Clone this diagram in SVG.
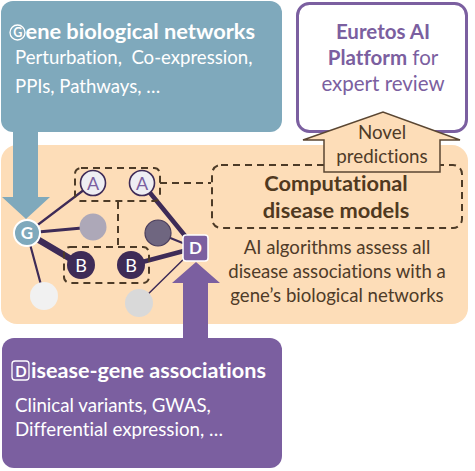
<svg xmlns="http://www.w3.org/2000/svg" width="475" height="471" viewBox="0 0 475 471">
<style>
text{font-family:Lato,"Liberation Sans",sans-serif;font-variant-ligatures:none}
.w{fill:#fff}
.tb{font-weight:bold}
.dash{fill:none;stroke:#4d3b27;stroke-width:2;stroke-dasharray:7 5}
.edge{stroke:#3e2b57;stroke-linecap:round}
.brown{fill:#50391f}
.pur{fill:#7b5fa0}
</style>
<rect x="0" y="0" width="475" height="471" fill="#fff"/>
<g id="orange-panel">
<rect x="1" y="145" width="467" height="179" rx="16" fill="#fdddb8"/>
</g>
<g id="gene-networks">
<rect x="1" y="1" width="281" height="131" rx="12" fill="#7fa9bc"/>
<circle cx="17.5" cy="32.5" r="7.5" fill="none" stroke="#fff" stroke-width="1.3"/>
<text class="w tb" font-size="21.8"><tspan x="13.3" y="37" font-size="12.5">G</tspan><tspan x="25.5" y="39">ene biological networks</tspan></text>
<text class="w" font-size="18.6"><tspan x="15" y="64">Perturbation,&#160; Co-expression,</tspan><tspan x="15" y="93">PPIs, Pathways, …</tspan></text>
</g>
<g id="disease-gene">
<rect x="2" y="338" width="280" height="130" rx="12" fill="#7b5fa0"/>
<rect x="12" y="361" width="17" height="19" rx="3" fill="none" stroke="#fff" stroke-width="1.3"/>
<text class="w tb" font-size="21.6"><tspan x="15.3" y="376.5" font-size="15">D</tspan><tspan x="31" y="378">isease-gene associations</tspan></text>
<text class="w" font-size="18.7"><tspan x="15" y="412">Clinical variants, GWAS,</tspan><tspan x="15" y="436">Differential expression, …</tspan></text>
</g>
<g id="euretos">
<rect x="297.5" y="3.5" width="169" height="128" rx="12" fill="#fff" stroke="#7b5fa0" stroke-width="3"/>
<text class="pur" font-size="20.5" text-anchor="middle"><tspan x="383" y="39" class="tb">Euretos AI</tspan><tspan x="383" y="65"><tspan class="tb">Platform</tspan> for</tspan><tspan x="383" y="91">expert review</tspan></text>
</g>
<g id="connectors">
<polygon points="13,130 38,130 38,197 50,197 26,219 2,197 13,197" fill="#7fa9bc"/>
<polygon points="183,340 208,340 208,283 220,283 196,262 172,283 183,283" fill="#7b5fa0"/>
<line class="edge" x1="27" y1="233" x2="93" y2="183" stroke-width="2.2"/>
<line class="edge" x1="27" y1="233" x2="93" y2="227" stroke-width="3.2"/>
<line class="edge" x1="27" y1="233" x2="81" y2="265" stroke-width="6.5"/>
<line class="edge" x1="27" y1="233" x2="44" y2="296" stroke-width="2.2"/>
<line class="edge" x1="142" y1="183" x2="195" y2="248" stroke-width="4.5"/>
<line class="edge" x1="158" y1="233" x2="195" y2="248" stroke-width="2"/>
<line class="edge" x1="131" y1="265" x2="195" y2="248" stroke-width="4.5"/>
<line class="edge" x1="195" y1="248" x2="139" y2="303" stroke-width="1.5"/>
<path class="dash" d="M160,183 H211 M118,202 V246"/>
</g>
<g id="computational-models">
<rect class="dash" x="212" y="165" width="250" height="63" rx="9"/>
<text class="brown tb" font-size="21.8" text-anchor="middle"><tspan x="336" y="191">Computational</tspan><tspan x="336" y="218">disease models</tspan></text>
<text fill="#4f3b28" font-size="18.6" text-anchor="middle"><tspan x="337" y="254">AI algorithms assess all</tspan><tspan x="337" y="278">disease associations with a</tspan><tspan x="337" y="302">gene’s biological networks</tspan></text>
</g>
<g id="novel-predictions">
<polygon points="324,172 324,140 303,140 383,112 460,140 440,140 440,172" fill="#fdddb8" stroke="#5a4632" stroke-width="1.5" stroke-linejoin="miter"/>
<text fill="#4f3b28" font-size="18.8" text-anchor="middle"><tspan x="382" y="139">Novel</tspan><tspan x="382" y="163">predictions</tspan></text>
</g>
<g id="group-A">
<rect class="dash" x="75" y="168" width="85" height="33" rx="6"/>
</g>
<g id="group-B">
<rect class="dash" x="64" y="247" width="85" height="36" rx="6"/>
</g>
<g id="node-G">
<circle cx="27" cy="233" r="13" fill="#7fa9bc" stroke="#fff" stroke-width="2"/>
<text class="w tb" font-size="17" x="27" y="239" text-anchor="middle">G</text>
</g>
<g id="node-A1">
<circle cx="93" cy="183" r="12.5" fill="#eeeef3" stroke="#3e2b57" stroke-width="1.6"/>
<text class="pur" font-size="18" x="93" y="189.5" text-anchor="middle">A</text>
</g>
<g id="node-A2">
<circle cx="142" cy="183" r="12.5" fill="#eeeef3" stroke="#3e2b57" stroke-width="1.6"/>
<text class="pur" font-size="18" x="142" y="189.5" text-anchor="middle">A</text>
</g>
<g id="node-gray1">
<circle cx="93" cy="227" r="13.5" fill="#ada8b8"/>
</g>
<g id="node-gray2">
<circle cx="158" cy="233" r="13" fill="#6f6680" stroke="#4a3d5c" stroke-width="1.2"/>
</g>
<g id="node-D">
<rect x="183" y="235" width="25" height="26" rx="3" fill="#7b5fa0" stroke="#fff" stroke-width="1.5"/>
<text class="w tb" font-size="17" x="195.5" y="254" text-anchor="middle">D</text>
</g>
<g id="node-B1">
<circle cx="81" cy="265" r="14" fill="#3e2b57"/>
<text class="w" font-size="18" x="81" y="271.5" text-anchor="middle">B</text>
</g>
<g id="node-B2">
<circle cx="131" cy="265" r="14" fill="#3e2b57"/>
<text class="w" font-size="18" x="131" y="271.5" text-anchor="middle">B</text>
</g>
<g id="node-light1">
<circle cx="44" cy="296" r="14" fill="#f1f1f1"/>
</g>
<g id="node-light2">
<circle cx="139" cy="303" r="14" fill="#d9d9d9"/>
</g>
</svg>
